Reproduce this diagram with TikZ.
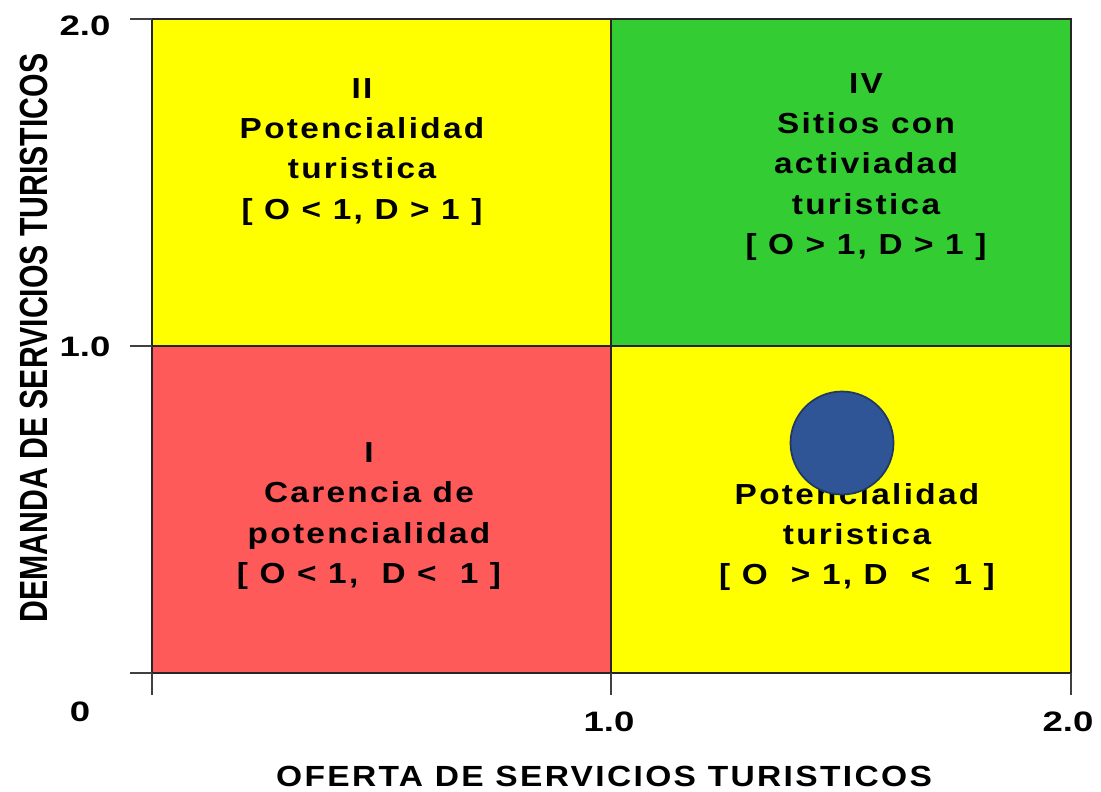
\documentclass[tikz,border=0pt]{standalone}
\usepackage{fontspec}
\setmainfont{Liberation Sans}
\newfontfamily\widefont[FakeStretch=1.3]{Liberation Sans}
\newfontfamily\quadfont[FakeStretch=1.15,LetterSpace=8]{Liberation Sans}
\definecolor{qred}{HTML}{FF5A5A}
\definecolor{qyellow}{HTML}{FFFF00}
\definecolor{qgreen}{HTML}{33CC33}
\definecolor{ptfill}{HTML}{2F5597}
\definecolor{ptdraw}{HTML}{1F3864}

\begin{document}
\begin{tikzpicture}[x=0.02cm, y=-0.02cm,
  quad/.style={align=center, inner sep=0pt, font=\quadfont\bfseries\fontsize{16.5}{22.8}\selectfont},
  ticklab/.style={inner sep=0pt, font=\widefont\bfseries\fontsize{16}{16}\selectfont},
  axtitle/.style={inner sep=0pt, font=\quadfont\bfseries\fontsize{16.6}{17}\selectfont}]
\useasboundingbox (0,0) rectangle (1101,791);
\fill[white] (0,0) rectangle (1101,791);
% quadrants
\fill[qred] (152,346) rectangle (611,673);
\fill[qyellow] (152,19) rectangle (611,346);
\fill[qyellow] (611,346) rectangle (1071,673);
\fill[qgreen] (611,19) rectangle (1071,346);
\draw[line width=1pt, black!85] (152,19) rectangle (1071,673);
\draw[line width=1pt, black!85] (611,19) -- (611,673);
\draw[line width=1pt, black!85] (152,346) -- (1071,346);
% ticks
\foreach \y in {19,346,673}
  \draw[line width=1pt, black!75] (130,\y) -- (152,\y);
\foreach \x in {152,611,1071}
  \draw[line width=1pt, black!75] (\x,673) -- (\x,695);
% tick labels
\node[ticklab] (y2) at (85,26) {2.0};
\node[ticklab] (y1) at (85,347) {1.0};
\node[ticklab] (o) at (80,712) {0};
\node[ticklab] (x1) at (609,722) {1.0};
\node[ticklab] (x2) at (1068,722) {2.0};
% axis titles
\node[axtitle] (oferta) at (604,776) {OFERTA DE SERVICIOS TURISTICOS};
\node[inner sep=0pt, rotate=90, font=\bfseries\fontsize{17.2}{17}\selectfont] (demanda) at (34,338)
  {\scalebox{1}[1.3]{DEMANDA DE SERVICIOS TURISTICOS}};
% quadrant texts
\node[quad] (qII) at (362,152) {II\\Potencialidad\\turistica\\{[} O < 1, D > 1 ]};
\node[quad] (qIV) at (866,167) {IV\\Sitios con\\activiadad\\turistica\\{[} O > 1, D > 1 ]};
\node[quad] (qI) at (369,516) {I\\Carencia de\\potencialidad\\{[} O < 1,\ \ D <\ \ 1 ]};
\node[quad] (qIII) at (857,537) {Potencialidad\\turistica\\{[} O\ \ > 1, D\ \ <\ \ 1 ]};
% point
\node[circle, fill=ptfill, draw=ptdraw, line width=1pt, minimum size=2.06cm, inner sep=0pt] (pt) at (842,443) {};
\end{tikzpicture}
\end{document}
